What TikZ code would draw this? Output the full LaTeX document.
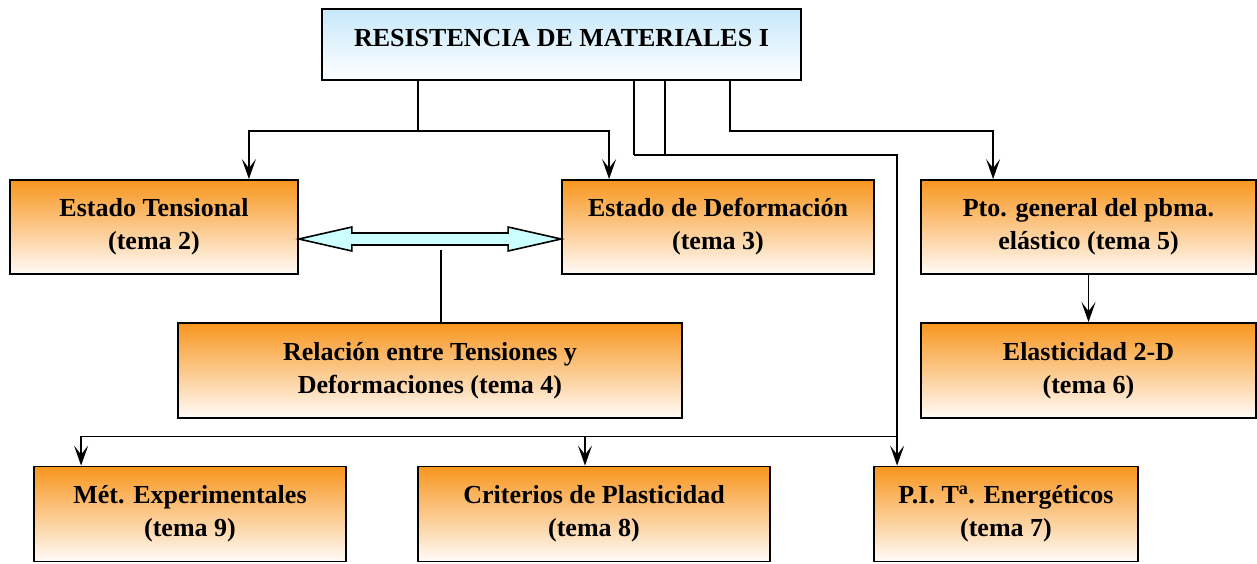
\documentclass[tikz,border=0pt]{standalone}
\usepackage{fontspec}
\setmainfont{Liberation Serif}
\usetikzlibrary{arrows.meta,calc}
\definecolor{naranja}{RGB}{248,150,30}
\definecolor{crema}{RGB}{255,251,248}
\definecolor{celeste}{RGB}{198,232,250}
\definecolor{cian}{RGB}{204,255,255}
\tikzset{
  tema/.style={draw, line width=1.8pt, inner sep=0pt, align=center,
    top color=naranja, bottom color=crema, minimum height=94pt,
    font=\fontsize{26}{33}\selectfont\bfseries},
  titulo/.style={tema, top color=celeste, bottom color=white, minimum height=71pt,
    text depth=14pt},
  enlace/.style={line width=1.6pt},
  flecha/.style={enlace, -{Stealth[length=20pt, width=14pt, inset=9pt]}}
}
\begin{document}
\begin{tikzpicture}[x=1pt, y=-1pt]
  \useasboundingbox (0,0) rectangle (1257,563);
  \node[titulo, minimum width=479pt] (rm) at (561.5,44.5) {RESISTENCIA DE MATERIALES I};
  \node[tema, minimum width=288pt] (tens) at (154,227) {Estado Tensional\\(tema 2)};
  \node[tema, minimum width=312pt] (defo) at (718,227) {Estado de Deformación\\(tema 3)};
  \node[tema, minimum width=335pt] (pto) at (1088.5,227) {Pto. general del pbma.\\elástico (tema 5)};
  \node[tema, minimum width=504pt, minimum height=95pt] (rel) at (430,370.5) {Relación entre Tensiones y\\Deformaciones (tema 4)};
  \node[tema, minimum width=335pt, minimum height=95pt] (elas) at (1088.5,370.5) {Elasticidad 2-D\\(tema 6)};
  \node[tema, minimum width=312pt, minimum height=95pt] (exp) at (190,514) {Mét. Experimentales\\(tema 9)};
  \node[tema, minimum width=352pt, minimum height=95pt] (crit) at (594,514) {Criterios de Plasticidad\\(tema 8)};
  \node[tema, minimum width=264pt, minimum height=95pt] (pi) at (1006,514) {P.I. T\textsuperscript{a}. Energéticos\\(tema 7)};
  \draw[enlace] ([xshift=-143.5pt]rm.south) -- ++(0,50) coordinate (j1);
  \draw[enlace] ([xshift=72.5pt]rm.south) -- ++(0,74);
  \draw[enlace] ([xshift=103.5pt]rm.south) -- ++(0,74);
  \draw[enlace] ([xshift=11pt]rel.north) -- ++(0,-72);
  \begin{scope}[flecha]
    \draw (j1) -| ([xshift=-50pt]tens.north east);
    \draw (j1) -| ([xshift=48pt]defo.north west);
    \draw ([xshift=72.5pt]rm.south) ++(0,74) -| ([xshift=24pt]pi.north west);
    \draw ([xshift=168.5pt]rm.south) -- ++(0,50) -| ([xshift=73pt]pto.north west);
    \draw (pto.south) -- (elas.north);
    \draw ([xshift=24pt,yshift=29pt]pi.north west) -| ([xshift=48pt]exp.north west);
    \draw ([xshift=-9pt,yshift=29pt]crit.north) -- ([xshift=-9pt]crit.north);
  \end{scope}
  \coordinate (a1) at ([yshift=-12pt]tens.east);
  \coordinate (a2) at ([yshift=-12pt]defo.west);
  \draw[line width=1.6pt, fill=cian, line join=miter] (a1) -- ++(53,-12) -- ++(0,6)
    -- ($(a2)+(-53,-6)$) -- ++(0,-6) -- (a2) -- ++(-53,12) -- ++(0,-6)
    -- ($(a1)+(53,6)$) -- ++(0,6) -- cycle;
\end{tikzpicture}
\end{document}
